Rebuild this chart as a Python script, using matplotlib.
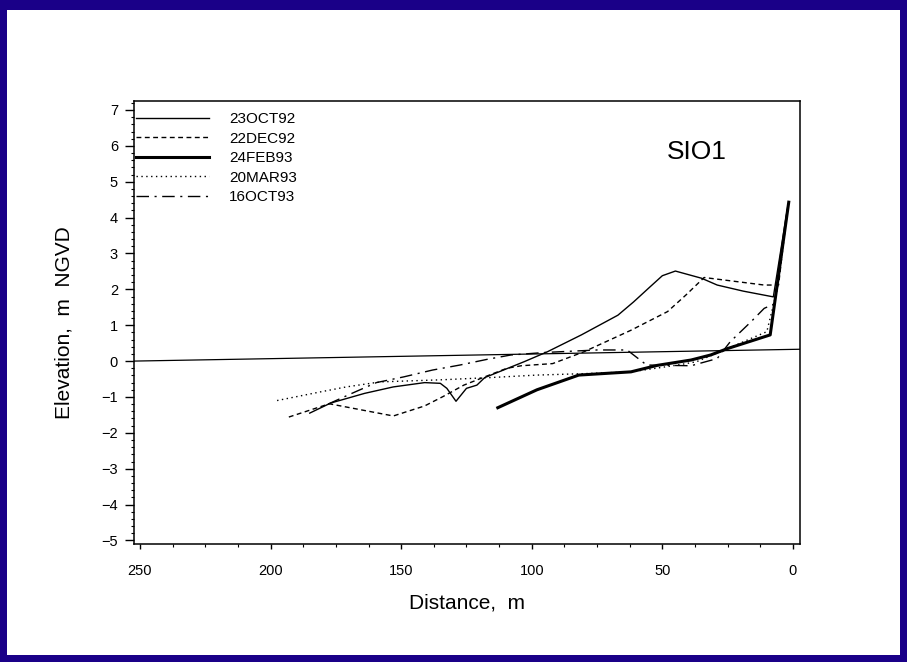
import matplotlib
matplotlib.use("Agg")
import matplotlib.pyplot as plt
from matplotlib.patches import Rectangle
from matplotlib.ticker import MultipleLocator, FuncFormatter

plt.rcParams['font.family'] = ['Liberation Sans', 'DejaVu Sans']

# Beach profile SIO1: distance offshore (m) vs elevation (m NGVD)
oct92_x = [185, 177, 164, 153, 141, 135, 132.5, 129, 125, 121, 118, 103, 94, 81, 67, 61, 55, 50, 45, 35, 29, 19, 7.5, 2]
oct92_y = [-1.45, -1.17, -0.90, -0.72, -0.60, -0.62, -0.76, -1.12, -0.76, -0.67, -0.46, -0.02, 0.26, 0.73, 1.28, 1.65, 2.05, 2.38, 2.51, 2.31, 2.12, 1.95, 1.79, 4.3]

dec92_x = [193, 177.5, 153, 141, 134, 126, 118, 109.5, 104, 92, 80, 62, 48, 41, 34, 11, 5.5, 2]
dec92_y = [-1.56, -1.19, -1.53, -1.25, -0.99, -0.67, -0.44, -0.20, -0.13, -0.07, 0.26, 0.86, 1.38, 1.84, 2.33, 2.12, 2.12, 4.3]

feb93_x = [113, 98, 82, 62, 52, 39, 31.5, 25, 8.7, 1.6]
feb93_y = [-1.30, -0.80, -0.39, -0.30, -0.12, 0.03, 0.17, 0.35, 0.73, 4.43]

mar93_x = [197.5, 181, 171, 158, 134, 116, 98, 80, 62, 45, 37, 25, 10, 6, 2]
mar93_y = [-1.10, -0.86, -0.72, -0.58, -0.52, -0.46, -0.39, -0.35, -0.30, -0.12, -0.02, 0.35, 0.82, 2.0, 4.2]

oct93_x = [178, 169.5, 159.5, 149, 138, 127.5, 117, 108, 95, 75, 63.5, 56, 39, 29, 24, 16, 11, 7, 2]
oct93_y = [-1.20, -0.92, -0.60, -0.44, -0.25, -0.11, 0.05, 0.17, 0.24, 0.31, 0.31, -0.11, -0.13, 0.07, 0.54, 1.10, 1.47, 1.6, 4.3]

labels = ['23OCT92', '22DEC92', '24FEB93', '20MAR93', '16OCT93']

# NGVD datum line (slightly tilted in the scan)
datum_x = [252.3, -2.7]
datum_y = [0.0, 0.33]

navy = '#1a0088'

fig = plt.figure(figsize=(9.07, 6.62), dpi=100)
fig.patch.set_facecolor(navy)
# white page inside the navy border
fig.add_artist(Rectangle((7 / 907, 7 / 662), 893 / 907, 645 / 662,
                         transform=fig.transFigure, facecolor='white',
                         edgecolor='none', zorder=-1))

ax = fig.add_axes([0.1477, 0.1782, 0.7343, 0.6692])

ax.plot(datum_x, datum_y, color='black', lw=0.9)
ax.plot(oct92_x, oct92_y, color='black', lw=1.0, label=labels[0])
ax.plot(dec92_x, dec92_y, color='black', lw=1.0, dashes=(3.5, 2.5), label=labels[1])
ax.plot(feb93_x, feb93_y, color='black', lw=2.2, label=labels[2])
ax.plot(mar93_x, mar93_y, color='black', lw=1.0, dashes=(1, 2.5), label=labels[3])
ax.plot(oct93_x, oct93_y, color='black', lw=1.0, dashes=(9, 4, 1.5, 4), label=labels[4])

ax.set_xlim(252.3, -2.7)
ax.set_ylim(-5.1, 7.25)

ax.xaxis.set_major_locator(MultipleLocator(50))
ax.xaxis.set_minor_locator(MultipleLocator(12.5))
ax.yaxis.set_major_locator(MultipleLocator(1))
ax.yaxis.set_minor_locator(MultipleLocator(0.2))
ax.yaxis.set_major_formatter(FuncFormatter(lambda v, p: f"\u2212{abs(v):.0f}" if v < 0 else f"{v:.0f}"))

ax.tick_params(axis='y', which='major', direction='out', length=6.5, width=1, pad=5, labelsize=10.5)
ax.tick_params(axis='y', which='minor', direction='out', length=2.5, width=0.8)
ax.tick_params(axis='x', which='major', direction='out', length=3.6, width=1, pad=11, labelsize=10.5)
ax.tick_params(axis='x', which='minor', direction='out', length=2, width=0.8)
for s in ax.spines.values():
    s.set_linewidth(1.1)

ax.set_xlabel('Distance,  m', fontsize=15, labelpad=11)
ax.set_ylabel('Elevation,  m  NGVD', fontsize=15, labelpad=20)

ax.text(0.845, 0.885, 'SIO1', transform=ax.transAxes, fontsize=19,
        ha='center', va='center')

ax.legend(loc='upper left', bbox_to_anchor=(0.003, 0.975), frameon=False,
          fontsize=11, handlelength=4.8, handletextpad=1.3, labelspacing=0.36,
          borderaxespad=0, borderpad=0)

fig.savefig('out.png', dpi=100, facecolor=fig.get_facecolor())
